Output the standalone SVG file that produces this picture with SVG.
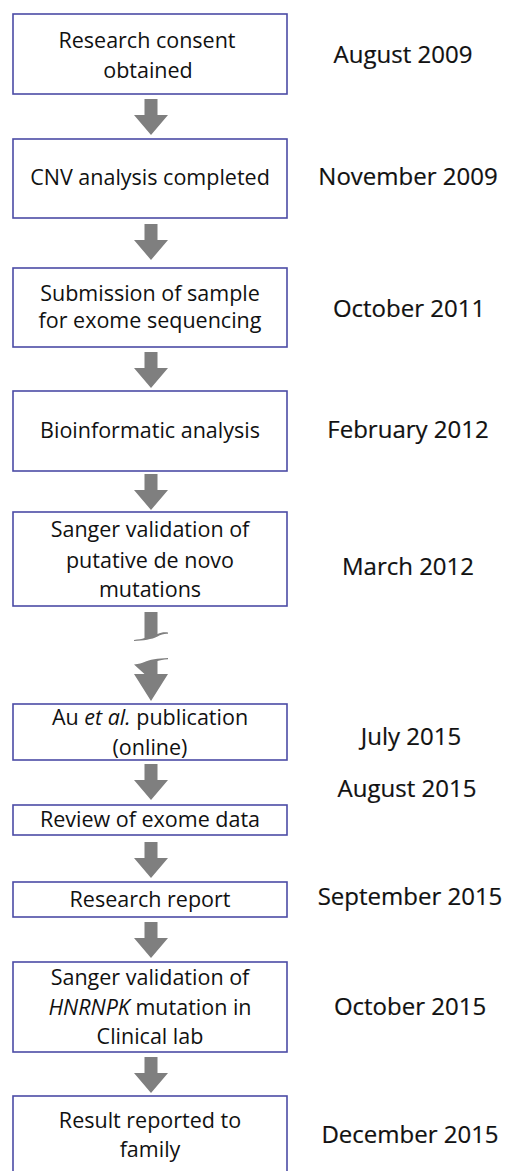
<svg xmlns="http://www.w3.org/2000/svg" width="505" height="1171" viewBox="0 0 505 1171">
<style>
.box{fill:#fff;stroke:#4b4ba6;stroke-width:1.6}
.t{font-family:"Open Sans","Liberation Sans",sans-serif;font-size:21.5px;fill:#111;text-anchor:middle}
.d{font-family:"Open Sans","Liberation Sans",sans-serif;font-size:24px;fill:#111;stroke:#111;stroke-width:0.2;text-anchor:middle}
.arr{fill:#7f7f7f}
</style>
<defs>
<path id="a" d="M-6.5,0 H6.5 V16 H17 L0,36 L-17,16 H-6.5 Z"/>
</defs>
<rect width="505" height="1171" fill="#fff"/>
<g id="connectors" class="arr">
<use href="#a" transform="translate(151,99)"/>
<use href="#a" transform="translate(151,224)"/>
<use href="#a" transform="translate(151,352)"/>
<use href="#a" transform="translate(151,474)"/>
<path d="M144.5,612 H157.5 V634 C161,632.5 164,632 168,632.5 L168,633.8 C164,633.6 161,634.5 157.5,636.5 C152,639.5 143,640.5 134,641 L134,640 C138,639.5 142,639 144.5,638 Z"/>
<path d="M134,664.5 C139,664 142,663 144.5,662 C149,659.5 158,658.5 168,658 L168,659.2 C163,659.5 160,660 157.5,661 V674 H168 L151,701 L134,674 H144.5 Z"/>
<use href="#a" transform="translate(151,764)"/>
<use href="#a" transform="translate(151,842)"/>
<use href="#a" transform="translate(151,922)"/>
<use href="#a" transform="translate(151,1057)"/>
</g>
<g id="n1"><rect class="box" x="13" y="14" width="274" height="80"/>
<text class="t" x="147" y="48">Research consent</text><text class="t" x="148" y="78">obtained</text>
<text class="d" x="403" y="63">August 2009</text></g>
<g id="n2"><rect class="box" x="13" y="139" width="274" height="79"/>
<text class="t" x="150" y="185">CNV analysis completed</text>
<text class="d" x="408" y="185">November 2009</text></g>
<g id="n3"><rect class="box" x="13" y="268" width="274" height="79"/>
<text class="t" x="150" y="301">Submission of sample</text><text class="t" x="150" y="328">for exome sequencing</text>
<text class="d" x="409" y="317">October 2011</text></g>
<g id="n4"><rect class="box" x="13" y="391" width="274" height="80"/>
<text class="t" x="150" y="438">Bioinformatic analysis</text>
<text class="d" x="408" y="438">February 2012</text></g>
<g id="n5"><rect class="box" x="13" y="512" width="274" height="94"/>
<text class="t" x="150" y="537">Sanger validation of</text><text class="t" x="150" y="568">putative de novo</text><text class="t" x="150" y="597">mutations</text>
<text class="d" x="408" y="575">March 2012</text></g>
<g id="n6"><rect class="box" x="13" y="704" width="274" height="56"/>
<text class="t" x="150" y="725">Au <tspan font-style="italic">et al.</tspan> publication</text><text class="t" x="150" y="755">(online)</text>
<text class="d" x="411" y="745">July 2015</text></g>
<g id="n7"><rect class="box" x="13" y="805" width="274" height="30"/>
<text class="t" x="150" y="827">Review of exome data</text>
<text class="d" x="407" y="797">August 2015</text></g>
<g id="n8"><rect class="box" x="13" y="882" width="274" height="35"/>
<text class="t" x="150" y="907">Research report</text>
<text class="d" x="410" y="905">September 2015</text></g>
<g id="n9"><rect class="box" x="13" y="962" width="274" height="90"/>
<text class="t" x="150" y="985">Sanger validation of</text><text class="t" x="150" y="1015"><tspan font-style="italic">HNRNPK</tspan> mutation in</text><text class="t" x="150" y="1044">Clinical lab</text>
<text class="d" x="410" y="1015">October 2015</text></g>
<g id="n10"><rect class="box" x="13" y="1096" width="274" height="80"/>
<text class="t" x="150" y="1128">Result reported to</text><text class="t" x="150" y="1157">family</text>
<text class="d" x="410" y="1143">December 2015</text></g>
</svg>
